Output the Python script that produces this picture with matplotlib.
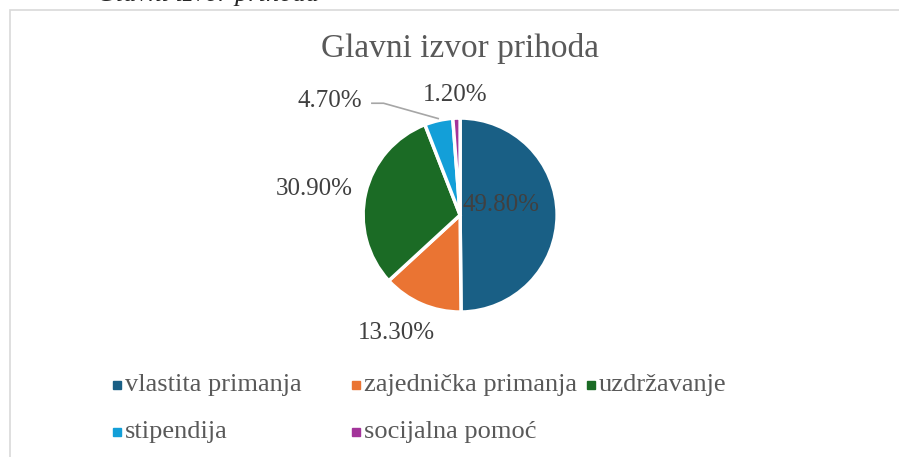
import numpy as np
import matplotlib
matplotlib.use('Agg')
import matplotlib.pyplot as plt
from matplotlib.patches import Rectangle

plt.rcParams['font.family'] = ['Liberation Serif', 'DejaVu Serif']

# data
categories = ['vlastita primanja', 'zajednička primanja', 'uzdržavanje',
              'stipendija', 'socijalna pomoć']
shares = [49.8, 13.3, 30.9, 4.7, 1.2]
colors = ['#195F85', '#EA7433', '#1B6B25', '#139FD8', '#A3349A']
title = 'Glavni izvor prihoda'

# label placement (radius in pie radii, angle shift in degrees)
lab_r = [0.43, 1.38, 1.53, 1.78, 1.24]
lab_shift = [14, -5, 3, 36, 0]

fig = plt.figure(figsize=(8.99, 4.57), dpi=100)
ax = fig.add_axes([0.4039, 0.3172, 0.2158, 0.4245])

wedges, _ = ax.pie(shares, colors=colors, startangle=90, counterclock=False,
                   wedgeprops=dict(edgecolor='white', linewidth=2.5))
ax.set_aspect('equal')
ax.set_xlim(-1, 1)
ax.set_ylim(-1, 1)

for i, w in enumerate(wedges):
    mid = np.deg2rad((w.theta1 + w.theta2) / 2 + lab_shift[i])
    x, y = lab_r[i] * np.cos(mid), lab_r[i] * np.sin(mid)
    ax.text(x, y, f'{shares[i]:.2f}%', ha='center', va='center',
            fontsize=18, color='#404040', clip_on=False)

# leader line for the small slice (stipendija)
w = wedges[3]
mid = np.deg2rad((w.theta1 + w.theta2) / 2)
tx = lab_r[3] * np.cos(np.deg2rad((w.theta1 + w.theta2) / 2 + lab_shift[3]))
ty = lab_r[3] * np.sin(np.deg2rad((w.theta1 + w.theta2) / 2 + lab_shift[3]))
ax.plot([tx + 0.43, tx + 0.55, np.cos(mid) * 1.02],
        [ty - 0.02, ty - 0.02, np.sin(mid) * 1.02],
        color='#a6a6a6', lw=1.2, clip_on=False)

fig.text(0.5117, 0.893, title, ha='center', va='center', fontsize=24,
         color='#595959')

# chart border (no right edge visible in the reference)
fig.add_artist(Rectangle((10 / 899, -0.01), 0.995, 1 - 9.5 / 457 + 0.01,
                         transform=fig.transFigure, fill=False,
                         edgecolor='#d9d9d9', lw=1.2))

# cut-off caption above the chart (only its lower edge shows)
fig.text(97 / 899, 1 - 1 / 457, 'Glavni izvor prihoda', ha='left',
         va='baseline', fontsize=19, style='italic', color='#262626')

# legend (equal column widths)
col_x = [113, 352, 587]
row_y = [385, 432]
for i, lab in enumerate(categories):
    cx = col_x[i % 3] / 899
    cy = 1 - row_y[i // 3] / 457
    fig.add_artist(Rectangle((cx, cy - 4 / 457), 8 / 899, 8 / 457,
                             transform=fig.transFigure, color=colors[i]))
    fig.text(cx + 12 / 899, cy, lab, ha='left', va='center', fontsize=19,
             color='#595959')

fig.savefig('out.png', dpi=100)
